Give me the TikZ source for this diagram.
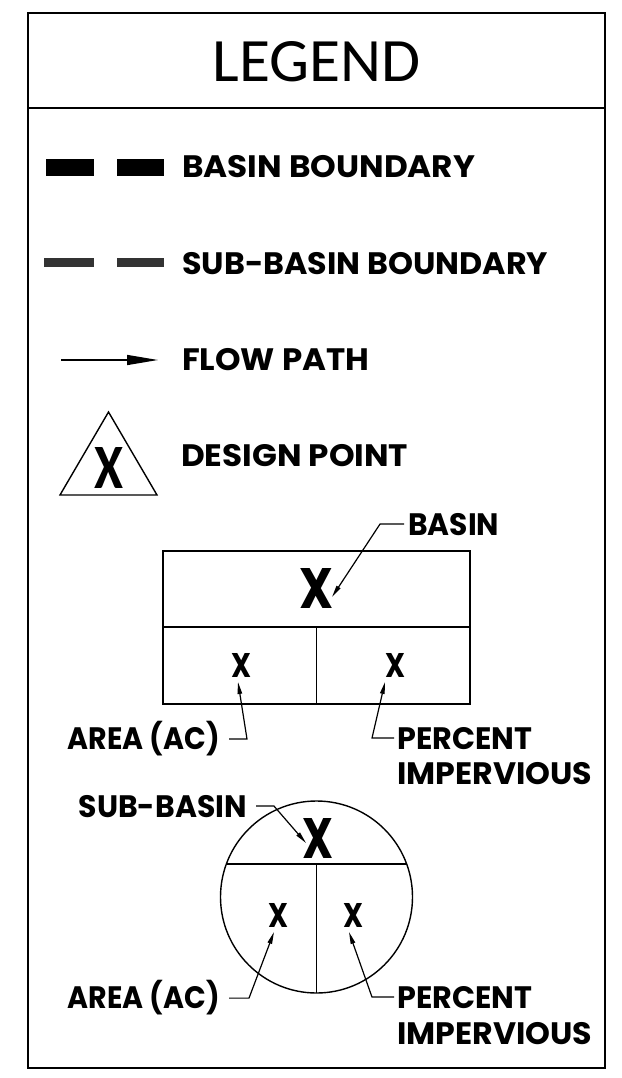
\documentclass[tikz,border=0pt]{standalone}
\usepackage{fontspec}
\setmainfont{Poppins}
\newfontfamily\legendfont{Carlito}
\usetikzlibrary{arrows.meta}
\newcommand\lab[2]{\resizebox{#1}{\height}{\fontsize{31}{31}\selectfont\bfseries #2}}
\newcommand\bigx[3]{\resizebox{#1}{#2}{#3X}}
\begin{document}
\begin{tikzpicture}[x=1pt,y=-1pt,
  lbl/.style={inner sep=0pt},
  frameline/.style={line width=2pt},
  boxline/.style={line width=1.4pt},
  leader/.style={line width=1.2pt,-{Triangle[length=12pt,width=4.5pt]}},
  flowarrow/.style={line width=1.5pt,-{Triangle[length=31pt,width=10pt]}},
]
\useasboundingbox (0,0) rectangle (621,1078);
% frame
\draw[frameline] (28,13) rectangle (605,1068);
\draw[frameline] (28,108) -- (605,108);
\node[lbl,anchor=base] (title) at (316.5,82) {\resizebox{208pt}{40pt}{\legendfont LEGEND}};
% basin boundary
\fill[black] (46,159) rectangle (94,176);
\fill[black] (117,159) rectangle (164,176);
\node[lbl,anchor=base west] (bb) at (182,178) {\lab{293pt}{BASIN BOUNDARY}};
% sub-basin boundary
\fill[black!80] (44,258) rectangle (94,267);
\fill[black!80] (117,258) rectangle (164,267);
\node[lbl,anchor=base west] (sbb) at (182,274) {\lab{366pt}{SUB-BASIN BOUNDARY}};
% flow path
\coordinate (fa) at (61,360);
\coordinate (fb) at (158,360);
\draw[flowarrow] (fa) -- (fb);
\node[lbl,anchor=base west] (fp) at (182,370) {\lab{187pt}{FLOW PATH}};
% design point
\coordinate (t1) at (60,495);
\coordinate (t2) at (108.5,412);
\coordinate (t3) at (157,495);
\draw[boxline,line join=miter] (t1) -- (t2) -- (t3) -- cycle;
\node[lbl] (dpx) at (108.5,468) {\bigx{29pt}{41pt}{\legendfont\bfseries}};
\node[lbl,anchor=base west] (dp) at (181,466) {\lab{227pt}{DESIGN POINT}};
% basin box
\draw[boxline] (163,551) rectangle (470,704);
\draw[boxline] (163,627) -- (470,627);
\draw[boxline] (316.5,627) -- (316.5,704);
\node[lbl] (bX) at (316,588) {\bigx{34pt}{40pt}{\bfseries}};
\node[lbl] (bxa) at (241,665) {\bigx{20pt}{24pt}{\bfseries}};
\node[lbl] (bxp) at (395,665) {\bigx{20pt}{24pt}{\bfseries}};
\node[lbl,anchor=base west] (basinlbl) at (408,535) {\lab{91pt}{BASIN}};
\node[lbl,anchor=base east] (areaU) at (220,749) {\lab{152pt}{AREA (AC)}};
\node[lbl,anchor=base west] (percU) at (397,749) {\lab{135pt}{PERCENT}};
\node[lbl,anchor=base west] (impU) at (397,784) {\lab{195pt}{IMPERVIOUS}};
\coordinate (tipB) at (332,597);
\coordinate (tipAU) at (238,682);
\coordinate (tipPU) at (385,682);
\draw[leader] ([xshift=-4pt]basinlbl.west) -- ++(-24,0) -- (tipB);
\draw[leader] ([xshift=9pt,yshift=-1pt]areaU.east) -- ++(18,0) -- (tipAU);
\draw[leader] ([xshift=-3pt]percU.west) -- ++(-22,0) -- (tipPU);
% sub-basin circle
\draw[boxline] (316.5,897) circle[radius=96pt];
\draw[boxline] (226.3,864) -- (406.7,864);
\draw[boxline] (316.5,864) -- (316.5,993);
\node[lbl] (sX) at (317.5,838) {\bigx{31pt}{40pt}{\bfseries}};
\node[lbl] (sxa) at (278,915) {\bigx{20pt}{24pt}{\bfseries}};
\node[lbl] (sxp) at (353,915) {\bigx{20pt}{24pt}{\bfseries}};
\node[lbl,anchor=base east] (sblbl) at (247,817) {\lab{168pt}{SUB-BASIN}};
\node[lbl,anchor=base east] (areaL) at (220,1008) {\lab{152pt}{AREA (AC)}};
\node[lbl,anchor=base west] (percL) at (397,1008) {\lab{135pt}{PERCENT}};
\node[lbl,anchor=base west] (impL) at (397,1044) {\lab{195pt}{IMPERVIOUS}};
\coordinate (tipS) at (306,843);
\coordinate (tipAL) at (274,932);
\coordinate (tipPL) at (349,932);
\draw[leader] ([xshift=9pt]sblbl.east) -- ++(18,0) -- (tipS);
\draw[leader] ([xshift=9pt,yshift=-1pt]areaL.east) -- ++(20,0) -- (tipAL);
\draw[leader] ([xshift=-3pt]percL.west) -- ++(-22,0) -- (tipPL);
\end{tikzpicture}
\end{document}
